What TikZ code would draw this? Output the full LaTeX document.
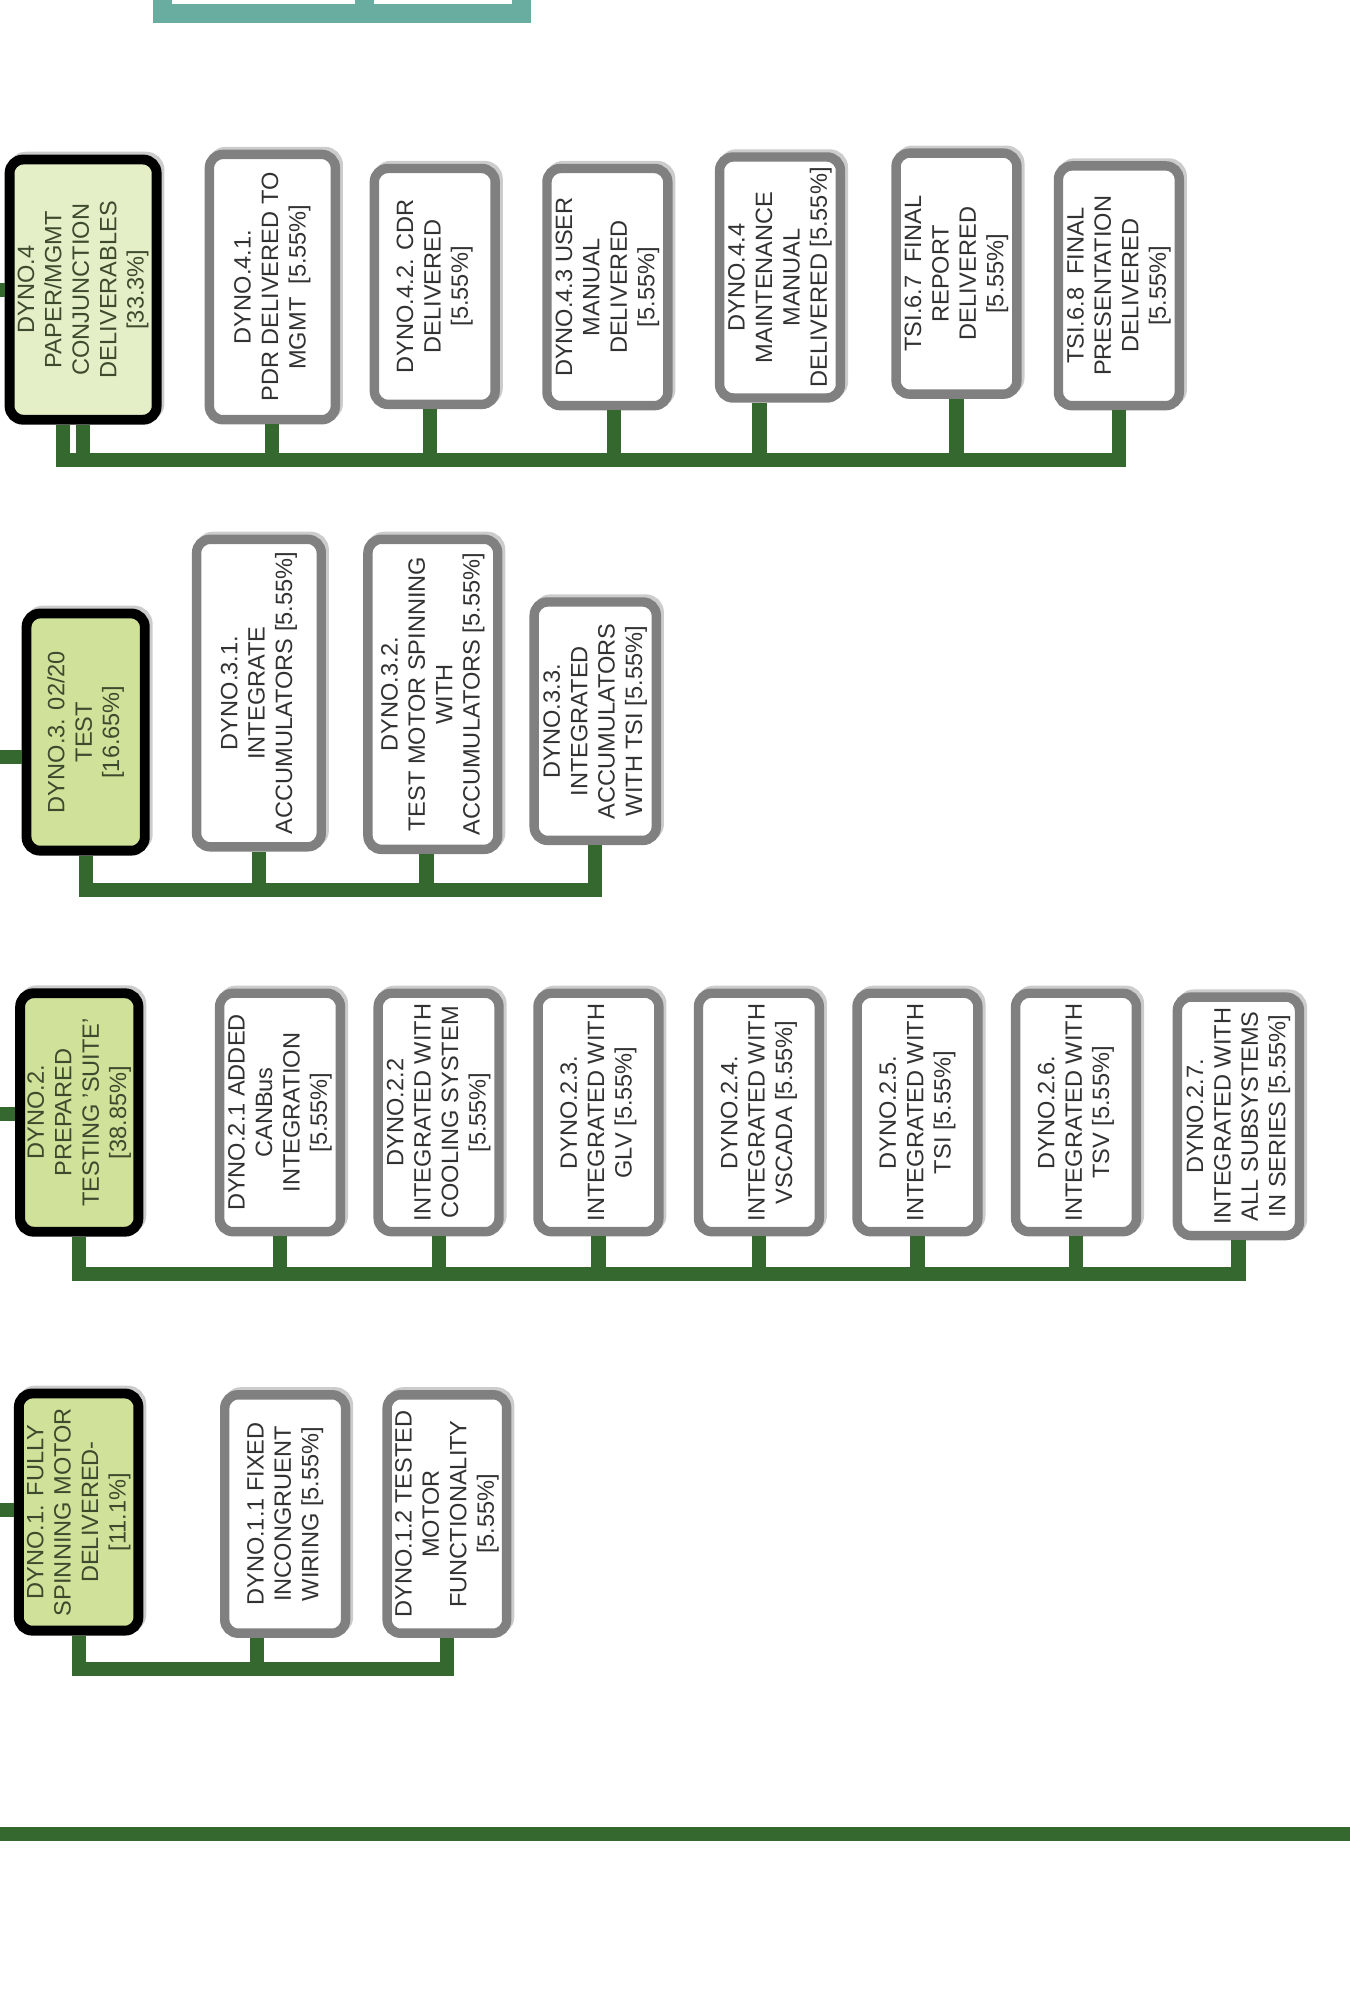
\documentclass[tikz,border=0pt]{standalone}
\usepackage{fontspec}
\setmainfont{Liberation Sans}
\usetikzlibrary{shadows}

\definecolor{linkgreen}{RGB}{52,104,47}
\definecolor{taskgray}{RGB}{128,128,128}
\definecolor{sumfill}{RGB}{208,226,153}
\definecolor{sumfilllight}{RGB}{229,239,199}
\definecolor{wbsteal}{RGB}{104,173,160}
\definecolor{sumtext}{RGB}{62,74,46}
\definecolor{tasktext}{RGB}{50,50,50}

\tikzset{
    boxsize/.style 2 args={minimum width=#1cm, minimum height=#2cm},
    sumbox/.style={rotate=90, draw=black, line width=4.4pt, rounded corners=6pt,
        fill=sumfill, text=sumtext, align=center, inner sep=0pt,
        font=\fontsize{10.5}{12.2}\selectfont,
        drop shadow={shadow xshift=1.3pt, shadow yshift=1.3pt, fill=black!20, draw=black!20, opacity=1}},
    taskbox/.style={rotate=90, draw=taskgray, line width=4.2pt, rounded corners=6pt,
        fill=white, text=tasktext, align=center, inner sep=0pt,
        font=\fontsize{10.5}{12.2}\selectfont,
        drop shadow={shadow xshift=1.3pt, shadow yshift=1.3pt, fill=black!20, draw=black!20, opacity=1}},
    topbox/.style={draw=wbsteal, line width=8.5pt, fill=white, inner sep=0pt},
    link/.style={draw=linkgreen, line width=6.3pt}
}

\begin{document}
\begin{tikzpicture}[x=0.02cm,y=-0.02cm]
    \useasboundingbox (0,0) rectangle (1055,1568);
    \node[topbox, minimum width=3.16cm, minimum height=1.4cm] (T1) at (206,-24.75) {};
    \node[topbox, minimum width=2.45cm, minimum height=1.4cm] (T2) at (346.25,-24.75) {};
    %4%
    \node[sumbox, fill=sumfilllight, boxsize={4.07}{2.30}] (D4) at (65,226.5) {DYNO.4\\PAPER/MGMT\\CONJUNCTION\\DELIVERABLES\\{[}33.3\%]};
    \node[taskbox, boxsize={4.15}{1.97}] (D41) at (213,224.5) {DYNO.4.1.\\PDR DELIVERED TO\\MGMT\ \ [5.55\%]};
    \node[taskbox, boxsize={3.69}{1.89}] (D42) at (340,224) {DYNO.4.2. CDR\\DELIVERED\\{[}5.55\%]};
    \node[taskbox, boxsize={3.71}{1.89}] (D43) at (475,224.5) {DYNO.4.3 USER\\MANUAL\\DELIVERED\\{[}5.55\%]};
    \node[taskbox, boxsize={3.77}{1.89}] (D44) at (610,217) {DYNO.4.4\\MAINTENANCE\\MANUAL\\DELIVERED [5.55\%]};
    \node[taskbox, boxsize={3.77}{1.89}] (T67) at (748,214) {TSI.6.7\ \ FINAL\\REPORT\\DELIVERED\\{[}5.55\%]};
    \node[taskbox, boxsize={3.75}{1.89}] (T68) at (875,223.5) {TSI.6.8\ \ FINAL\\PRESENTATION\\DELIVERED\\{[}5.55\%]};
    %3%
    \node[sumbox, boxsize={3.71}{1.85}] (D3) at (67,572.5) {DYNO.3. 02/20\\TEST\\{[}16.65\%]};
    \node[taskbox, boxsize={4.81}{1.95}] (D31) at (202.5,542) {DYNO.3.1.\\INTEGRATE\\ACCUMULATORS [5.55\%]};
    \node[taskbox, boxsize={4.85}{2.03}] (D32) at (338.5,543) {DYNO.3.2.\\TEST MOTOR SPINNING\\WITH\\ACCUMULATORS [5.55\%]};
    \node[taskbox, boxsize={3.73}{1.91}] (D33) at (465.5,564) {DYNO.3.3.\\INTEGRATED\\ACCUMULATORS\\WITH TSI [5.55\%]};
    %2%
    \node[sumbox, boxsize={3.73}{1.85}] (D2) at (62,870) {DYNO.2.\\PREPARED\\TESTING 'SUITE'\\{[}38.85\%]};
    \node[taskbox, boxsize={3.73}{1.89}] (D21) at (219,870) {DYNO.2.1 ADDED\\CANBus\\INTEGRATION\\{[}5.55\%]};
    \node[taskbox, boxsize={3.73}{1.89}] (D22) at (343,870) {DYNO.2.2\\INTEGRATED WITH\\COOLING SYSTEM\\{[}5.55\%]};
    \node[taskbox, boxsize={3.73}{1.89}] (D23) at (468,870) {DYNO.2.3.\\INTEGRATED WITH\\GLV [5.55\%]};
    \node[taskbox, boxsize={3.73}{1.89}] (D24) at (593.5,870) {DYNO.2.4.\\INTEGRATED WITH\\VSCADA [5.55\%]};
    \node[taskbox, boxsize={3.73}{1.89}] (D25) at (717.5,870) {DYNO.2.5.\\INTEGRATED WITH\\TSI [5.55\%]};
    \node[taskbox, boxsize={3.73}{1.89}] (D26) at (841.5,870) {DYNO.2.6.\\INTEGRATED WITH\\TSV [5.55\%]};
    \node[taskbox, boxsize={3.73}{1.91}] (D27) at (968.5,873) {DYNO.2.7.\\INTEGRATED WITH\\ALL SUBSYSTEMS\\IN SERIES [5.55\%]};
    %1%
    \node[sumbox, boxsize={3.71}{1.87}] (D1) at (61.5,1182.5) {DYNO.1. FULLY\\SPINNING MOTOR\\DELIVERED-\\{[}11.1\%]};
    \node[taskbox, boxsize={3.73}{1.89}] (D11) at (223,1184) {DYNO.1.1 FIXED\\INCONGRUENT\\WIRING [5.55\%]};
    \node[taskbox, boxsize={3.73}{1.87}] (D12) at (349.5,1184) {DYNO.1.2 TESTED\\MOTOR\\FUNCTIONALITY\\{[}5.55\%]};
    \coordinate (B4) at (0,360);
    \coordinate (B3) at (0,696);
    \coordinate (B2) at (0,996);
    \coordinate (B1) at (0,1305);
    \coordinate (L4) at (-10,226.5);
    \coordinate (L3) at (-10,592);
    \coordinate (L2) at (-10,871);
    \coordinate (L1) at (-10,1181);
    \coordinate (E1) at (-10,1434);
    \coordinate (E2) at (1065,1434);
    \draw [link](L4) -- (L4 -| D4.north);
    \draw [link](L3) -- (L3 -| D3.north);
    \draw [link](L2) -- (L2 -| D2.north);
    \draw [link](L1) -- (L1 -| D1.north);
    \draw [link]([xshift=-0.32cm]D4.west) |- (D4.west |- B4);
    \draw [link](D4.west) -- (D4.west |- B4) -| (D41.west);
    \draw [link](D4.west) -- (D4.west |- B4) -| ([xshift=-0.08cm]D42.west);
    \draw [link](D4.west) -- (D4.west |- B4) -| ([xshift=0.1cm]D43.west);
    \draw [link](D4.west) -- (D4.west |- B4) -| ([xshift=-0.32cm]D44.west);
    \draw [link](D4.west) -- (D4.west |- B4) -| (T67.west);
    \draw [link](D4.west) -- (D4.west |- B4) -| (T68.west);
    \draw [link](D3.west) -- (D3.west |- B3) -| (D31.west);
    \draw [link](D3.west) -- (D3.west |- B3) -| ([xshift=-0.1cm]D32.west);
    \draw [link](D3.west) -- (D3.west |- B3) -| (D33.west);
    \draw [link](D2.west) -- (D2.west |- B2) -| (D21.west);
    \draw [link](D2.west) -- (D2.west |- B2) -| (D22.west);
    \draw [link](D2.west) -- (D2.west |- B2) -| (D23.west);
    \draw [link](D2.west) -- (D2.west |- B2) -| (D24.west);
    \draw [link](D2.west) -- (D2.west |- B2) -| (D25.west);
    \draw [link](D2.west) -- (D2.west |- B2) -| (D26.west);
    \draw [link](D2.west) -- (D2.west |- B2) -| (D27.west);
    \draw [link](D1.west) -- (D1.west |- B1) -| ([xshift=-0.44cm]D11.west);
    \draw [link](D1.west) -- (D1.west |- B1) -| (D12.west);
    \draw [link](E1) -- (E2);
\end{tikzpicture}
\end{document}
